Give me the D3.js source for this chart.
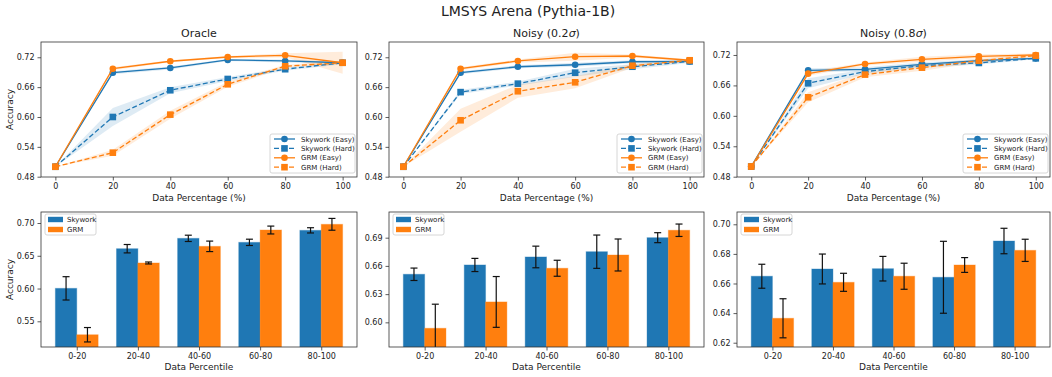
<!DOCTYPE html>
<html>
<head>
<meta charset="utf-8">
<script src="https://cdn.jsdelivr.net/npm/d3@7"></script>
<style>
  body { margin: 0; background: #fff; }
  text { font-family: "DejaVu Sans", sans-serif; fill: #222; }
</style>
</head>
<body>
<svg id="chart"></svg>
<script>
// data
const xPct = [0, 20, 40, 60, 80, 100];
const panelTitles = ['Oracle', 'Noisy (0.2σ)', 'Noisy (0.8σ)'];
const seriesNames = ['Skywork (Easy)', 'Skywork (Hard)', 'GRM (Easy)', 'GRM (Hard)'];

// Oracle
const oracleSkyEasy = [0.50, 0.689, 0.6985, 0.7146, 0.7126, 0.709];
const oracleSkyHard = [0.50, 0.600, 0.6537, 0.6764, 0.696, 0.709];
const oracleGrmEasy = [0.50, 0.697, 0.712, 0.7206, 0.724, 0.709];
const oracleGrmHard = [0.50, 0.5283, 0.6047, 0.6657, 0.702, 0.709];
const oracleSkyEasyStd = [0, 0.003, 0.003, 0.002, 0.003, 0.002];
const oracleSkyHardStd = [0, 0.018, 0.006, 0.004, 0.003, 0.003];
const oracleGrmEasyStd = [0, 0.003, 0.002, 0.002, 0.004, 0.022];
const oracleGrmHardStd = [0, 0.006, 0.008, 0.005, 0.003, 0.003];

// Noisy 0.2
const n02SkyEasy = [0.50, 0.689, 0.701, 0.705, 0.711, 0.7117];
const n02SkyHard = [0.50, 0.650, 0.667, 0.689, 0.701, 0.7117];
const n02GrmEasy = [0.50, 0.697, 0.7126, 0.7212, 0.7226, 0.714];
const n02GrmHard = [0.50, 0.5934, 0.6517, 0.6697, 0.7031, 0.714];
const n02SkyEasyStd = [0, 0.003, 0.003, 0.004, 0.003, 0.002];
const n02SkyHardStd = [0, 0.004, 0.004, 0.008, 0.005, 0.003];
const n02GrmEasyStd = [0, 0.003, 0.003, 0.008, 0.003, 0.002];
const n02GrmHardStd = [0, 0.023, 0.013, 0.012, 0.004, 0.002];

// Noisy 0.8
const n08SkyEasy = [0.50, 0.6898, 0.6918, 0.7016, 0.7088, 0.7134];
const n08SkyHard = [0.50, 0.6642, 0.6872, 0.699, 0.7043, 0.7134];
const n08GrmEasy = [0.50, 0.6832, 0.7023, 0.7115, 0.7174, 0.720];
const n08GrmHard = [0.50, 0.6366, 0.6813, 0.695, 0.7088, 0.7187];
const n08SkyEasyStd = [0, 0.004, 0.004, 0.004, 0.003, 0.002];
const n08SkyHardStd = [0, 0.010, 0.004, 0.004, 0.003, 0.002];
const n08GrmEasyStd = [0, 0.004, 0.003, 0.005, 0.004, 0.003];
const n08GrmHardStd = [0, 0.010, 0.005, 0.006, 0.004, 0.003];

// bottom row: accuracy per data percentile
const percentiles = ['0-20', '20-40', '40-60', '60-80', '80-100'];
const barOracleSky = [0.6003, 0.6608, 0.6766, 0.6705, 0.6888];
const barOracleSkyErr = [0.0178, 0.0064, 0.0048, 0.0048, 0.004];
const barOracleGrm = [0.5295, 0.639, 0.6644, 0.6893, 0.698];
const barOracleGrmErr = [0.011, 0.0015, 0.008, 0.006, 0.009];
const barN02Sky = [0.6511, 0.661, 0.6695, 0.6751, 0.690];
const barN02SkyErr = [0.0066, 0.007, 0.0115, 0.0177, 0.0053];
const barN02Grm = [0.5937, 0.6217, 0.6575, 0.6716, 0.6979];
const barN02GrmErr = [0.0256, 0.027, 0.0085, 0.017, 0.0066];
const barN08Sky = [0.6649, 0.6698, 0.670, 0.6642, 0.6887];
const barN08SkyErr = [0.0081, 0.0101, 0.0083, 0.0243, 0.0086];
const barN08Grm = [0.6365, 0.6608, 0.6649, 0.6725, 0.6824];
const barN08GrmErr = [0.0132, 0.0061, 0.0088, 0.005, 0.0075];

const topYTicks = [0.48, 0.54, 0.60, 0.66, 0.72];
const botYTicks = [
  [0.55, 0.60, 0.65, 0.70],
  [0.60, 0.63, 0.66, 0.69],
  [0.62, 0.64, 0.66, 0.68, 0.70]
];

const BLUE = '#1f77b4', ORANGE = '#ff7f0e';
const width = 1052, height = 377;

const svg = d3.select('#chart').attr('width', width).attr('height', height);

svg.append('text')
  .attr('x', 528).attr('y', 16)
  .attr('text-anchor', 'middle')
  .style('font-size', '14px')
  .text('LMSYS Arena (Pythia-1B)');

const cols = [[41, 357], [389, 704], [737, 1050]];
const topRow = [42, 177], botRow = [212, 347];
const topYDomains = [[0.4794, 0.7507], [0.4794, 0.7507], [0.4794, 0.7456]];
const botYDomains = [[0.5108, 0.7168], [0.5738, 0.7173], [0.6171, 0.7083]];

const topPanels = [
  {
    lines: [oracleSkyEasy, oracleSkyHard, oracleGrmEasy, oracleGrmHard],
    stds: [oracleSkyEasyStd, oracleSkyHardStd, oracleGrmEasyStd, oracleGrmHardStd]
  },
  {
    lines: [n02SkyEasy, n02SkyHard, n02GrmEasy, n02GrmHard],
    stds: [n02SkyEasyStd, n02SkyHardStd, n02GrmEasyStd, n02GrmHardStd]
  },
  {
    lines: [n08SkyEasy, n08SkyHard, n08GrmEasy, n08GrmHard],
    stds: [n08SkyEasyStd, n08SkyHardStd, n08GrmEasyStd, n08GrmHardStd]
  }
];
const botPanels = [
  { sky: barOracleSky, skyErr: barOracleSkyErr, grm: barOracleGrm, grmErr: barOracleGrmErr },
  { sky: barN02Sky, skyErr: barN02SkyErr, grm: barN02Grm, grmErr: barN02GrmErr },
  { sky: barN08Sky, skyErr: barN08SkyErr, grm: barN08Grm, grmErr: barN08GrmErr }
];

const seriesColor = [BLUE, BLUE, ORANGE, ORANGE];
const seriesDash = [null, '5,2.5', null, '5,2.5'];
const seriesMarker = ['circle', 'square', 'circle', 'square'];

function styleAxis(g) {
  g.select('.domain').remove();
  g.selectAll('.tick line').attr('stroke', '#333').attr('stroke-width', 0.8);
  g.selectAll('.tick text').style('font-size', '8px').attr('fill', '#222');
}

function frame(g, x0, x1, y0, y1) {
  g.append('rect')
    .attr('x', x0).attr('y', y0)
    .attr('width', x1 - x0).attr('height', y1 - y0)
    .attr('fill', 'none').attr('stroke', '#333').attr('stroke-width', 0.8);
}

function drawMarker(g, type, cx, cy, color) {
  if (type === 'circle') {
    g.append('circle').attr('cx', cx).attr('cy', cy).attr('r', 3.3).attr('fill', color);
  } else {
    g.append('rect').attr('x', cx - 3.3).attr('y', cy - 3.3)
      .attr('width', 6.6).attr('height', 6.6).attr('fill', color);
  }
}

// top row: line charts
topPanels.forEach((p, i) => {
  const [x0, x1] = cols[i];
  const [y0, y1] = topRow;
  const g = svg.append('g');
  const x = d3.scaleLinear().domain([-5, 105]).range([x0, x1]);
  const y = d3.scaleLinear().domain(topYDomains[i]).range([y1, y0]);

  const clip = 'clipTop' + i;
  svg.append('clipPath').attr('id', clip)
    .append('rect').attr('x', x0).attr('y', y0).attr('width', x1 - x0).attr('height', y1 - y0);
  const plot = g.append('g').attr('clip-path', `url(#${clip})`);

  // bands
  p.lines.forEach((vals, s) => {
    const area = d3.area()
      .x((d, k) => x(xPct[k]))
      .y0((d, k) => y(d - p.stds[s][k]))
      .y1((d, k) => y(d + p.stds[s][k]));
    plot.append('path').datum(vals)
      .attr('d', area)
      .attr('fill', seriesColor[s])
      .attr('fill-opacity', 0.15);
  });

  // lines + markers
  p.lines.forEach((vals, s) => {
    const line = d3.line().x((d, k) => x(xPct[k])).y(d => y(d));
    plot.append('path').datum(vals)
      .attr('d', line)
      .attr('fill', 'none')
      .attr('stroke', seriesColor[s])
      .attr('stroke-width', 1.3)
      .attr('stroke-dasharray', seriesDash[s]);
    vals.forEach((v, k) => drawMarker(plot, seriesMarker[s], x(xPct[k]), y(v), seriesColor[s]));
  });

  g.append('g').attr('transform', `translate(0,${y1})`)
    .call(d3.axisBottom(x).tickValues(xPct).tickSize(3.5).tickPadding(3))
    .call(styleAxis);
  g.append('g').attr('transform', `translate(${x0},0)`)
    .call(d3.axisLeft(y).tickValues(topYTicks).tickFormat(d3.format('.2f')).tickSize(3.5).tickPadding(3))
    .call(styleAxis);
  frame(g, x0, x1, y0, y1);

  const title = g.append('text')
    .attr('x', (x0 + x1) / 2).attr('y', 37)
    .attr('text-anchor', 'middle')
    .style('font-size', '11px');
  if (i === 0) {
    title.text(panelTitles[0]);
  } else {
    const parts = panelTitles[i].split('σ');
    title.append('tspan').text(parts[0]);
    title.append('tspan').style('font-style', 'italic').text('σ');
    title.append('tspan').text(parts[1]);
  }

  g.append('text')
    .attr('x', (x0 + x1) / 2).attr('y', 201)
    .attr('text-anchor', 'middle')
    .style('font-size', '9px')
    .text('Data Percentage (%)');

  if (i === 0) {
    g.append('text')
      .attr('transform', `translate(13,${(y0 + y1) / 2}) rotate(-90)`)
      .attr('text-anchor', 'middle')
      .style('font-size', '9px')
      .text('Accuracy');
  }

  // legend, lower right
  const lx = x1 - 87, ly = y1 - 43;
  const leg = g.append('g');
  leg.append('rect')
    .attr('x', lx).attr('y', ly).attr('width', 85).attr('height', 39).attr('rx', 2)
    .attr('fill', '#fff').attr('fill-opacity', 0.8)
    .attr('stroke', '#ccc').attr('stroke-width', 0.8);
  seriesNames.forEach((name, s) => {
    const ry = ly + 5 + s * 9.4;
    leg.append('line')
      .attr('x1', lx + 4).attr('x2', lx + 25)
      .attr('y1', ry).attr('y2', ry)
      .attr('stroke', seriesColor[s]).attr('stroke-width', 1.3)
      .attr('stroke-dasharray', seriesDash[s]);
    drawMarker(leg, seriesMarker[s], lx + 14.5, ry, seriesColor[s]);
    leg.append('text')
      .attr('x', lx + 31).attr('y', ry + 2.5)
      .style('font-size', '7px')
      .text(name);
  });
});

// bottom row: grouped bar charts
botPanels.forEach((p, i) => {
  const [x0, x1] = cols[i];
  const [y0, y1] = botRow;
  const g = svg.append('g');
  const x = d3.scaleLinear().domain([-0.585, 4.585]).range([x0, x1]);
  const y = d3.scaleLinear().domain(botYDomains[i]).range([y1, y0]);
  const bw = 0.35;

  const clip = 'clipBot' + i;
  svg.append('clipPath').attr('id', clip)
    .append('rect').attr('x', x0).attr('y', y0).attr('width', x1 - x0).attr('height', y1 - y0);
  const plot = g.append('g').attr('clip-path', `url(#${clip})`);

  const groups = [
    { vals: p.sky, errs: p.skyErr, off: -bw / 2, color: BLUE },
    { vals: p.grm, errs: p.grmErr, off: bw / 2, color: ORANGE }
  ];
  groups.forEach(gr => {
    gr.vals.forEach((v, k) => {
      const cx = x(k + gr.off);
      plot.append('rect')
        .attr('x', x(k + gr.off - bw / 2))
        .attr('width', x(bw) - x(0))
        .attr('y', y(v))
        .attr('height', y1 + 5 - y(v))
        .attr('fill', gr.color)
        .attr('stroke', gr.color).attr('stroke-opacity', 0.35).attr('stroke-width', 1);
      const e = gr.errs[k];
      plot.append('line')
        .attr('x1', cx).attr('x2', cx)
        .attr('y1', y(v - e)).attr('y2', y(v + e))
        .attr('stroke', '#111').attr('stroke-width', 1.2);
      [v - e, v + e].forEach(c => {
        plot.append('line')
          .attr('x1', cx - 3.5).attr('x2', cx + 3.5)
          .attr('y1', y(c)).attr('y2', y(c))
          .attr('stroke', '#111').attr('stroke-width', 1.2);
      });
    });
  });

  g.append('g').attr('transform', `translate(0,${y1})`)
    .call(d3.axisBottom(x).tickValues(d3.range(percentiles.length))
      .tickFormat(k => percentiles[k]).tickSize(3.5).tickPadding(3))
    .call(styleAxis);
  g.append('g').attr('transform', `translate(${x0},0)`)
    .call(d3.axisLeft(y).tickValues(botYTicks[i]).tickFormat(d3.format('.2f')).tickSize(3.5).tickPadding(3))
    .call(styleAxis);
  frame(g, x0, x1, y0, y1);

  g.append('text')
    .attr('x', (x0 + x1) / 2).attr('y', 370)
    .attr('text-anchor', 'middle')
    .style('font-size', '9px')
    .text('Data Percentile');

  if (i === 0) {
    g.append('text')
      .attr('transform', `translate(13,${(y0 + y1) / 2}) rotate(-90)`)
      .attr('text-anchor', 'middle')
      .style('font-size', '9px')
      .text('Accuracy');
  }

  // legend, upper left
  const lx = x0 + 4, ly = y0 + 2;
  const leg = g.append('g');
  leg.append('rect')
    .attr('x', lx).attr('y', ly).attr('width', 51).attr('height', 21).attr('rx', 2)
    .attr('fill', '#fff').attr('fill-opacity', 0.8)
    .attr('stroke', '#ccc').attr('stroke-width', 0.8);
  [['Skywork', BLUE], ['GRM', ORANGE]].forEach(([name, color], s) => {
    const ry = ly + 5.5 + s * 10;
    leg.append('rect')
      .attr('x', lx + 3).attr('y', ry - 2.7).attr('width', 15).attr('height', 5.4)
      .attr('fill', color);
    leg.append('text')
      .attr('x', lx + 22).attr('y', ry + 2.5)
      .style('font-size', '7px')
      .text(name);
  });
});
</script>
</body>
</html>
